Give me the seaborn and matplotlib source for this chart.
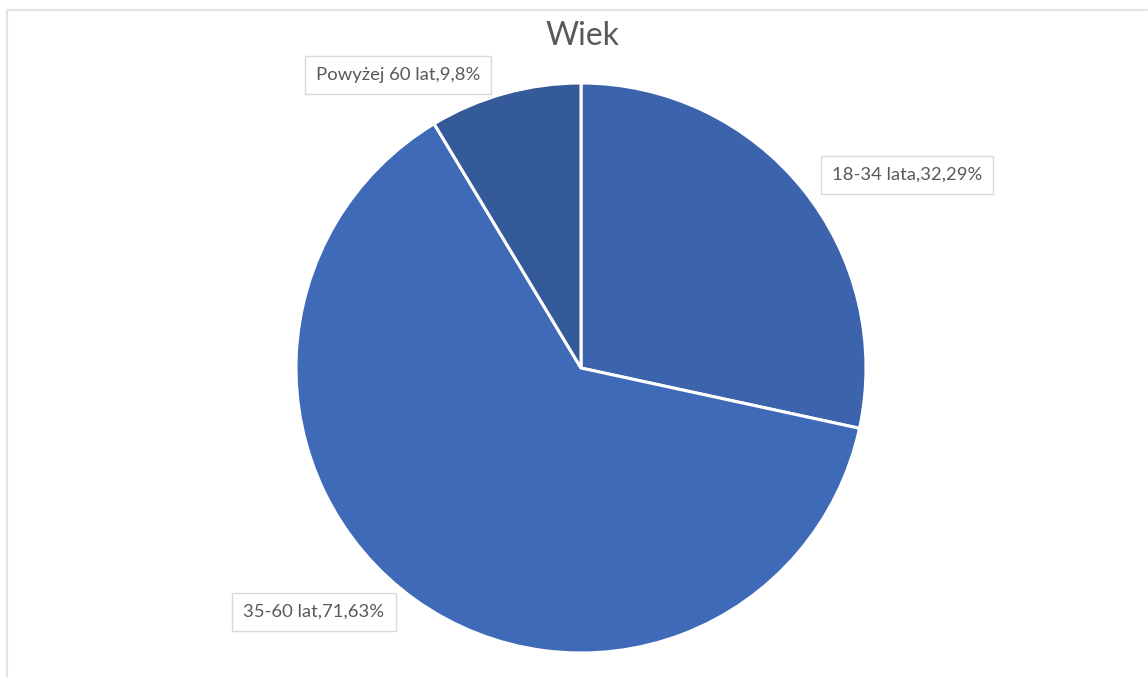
import numpy as np
import seaborn as sns
import matplotlib.pyplot as plt
from matplotlib.lines import Line2D

# data
groups = ["18-34 lata", "35-60 lat", "Powyżej 60 lat"]
shares = [32.29, 71.63, 9.8]
colors = ["#3B64AD", "#3F6AB8", "#345A99"]

sns.set_theme(style="white")
plt.rcParams['font.family'] = ['Lato', 'DejaVu Sans']

W, H = 1148, 677
cx, cy, r = 581, 368, 285

fig = plt.figure(figsize=(W / 100, H / 100), dpi=100)
ax = fig.add_axes([0, 0, 1, 1])

wedges, _ = ax.pie(shares, colors=colors, startangle=90, counterclock=False,
                   radius=1, wedgeprops=dict(edgecolor="white", linewidth=2.2))

ax.set_xlim(-cx / r, (W - cx) / r)
ax.set_ylim(-(H - cy) / r, cy / r)
ax.set_aspect('auto')
ax.axis('off')

# label boxes (pixel centres of the reference boxes)
label_px = [(907, 175), (314, 612), (398, 75)]
for g, v, (px, py) in zip(groups, shares, label_px):
    txt = f"{g},{str(v).replace('.', ',')}%"
    ax.text((px - cx) / r, (cy - py) / r, txt, ha='center', va='center',
            fontsize=13.3, color="#595959",
            bbox=dict(boxstyle="square,pad=0.6", fc="white", ec="#D9D9D9", lw=1))

fig.text(583 / W, 1 - 36 / H, "Wiek", ha='center', va='center',
         fontsize=23, color="#595959")

# faint chart-area border
fig.add_artist(Line2D([7 / W, 1147 / W], [1 - 10 / H, 1 - 10 / H],
                      transform=fig.transFigure, color="#E3E3E3", lw=1.5))
fig.add_artist(Line2D([7 / W, 7 / W], [0, 1 - 10 / H],
                      transform=fig.transFigure, color="#E3E3E3", lw=1.5))

fig.savefig("out.png", dpi=100, facecolor="white")
